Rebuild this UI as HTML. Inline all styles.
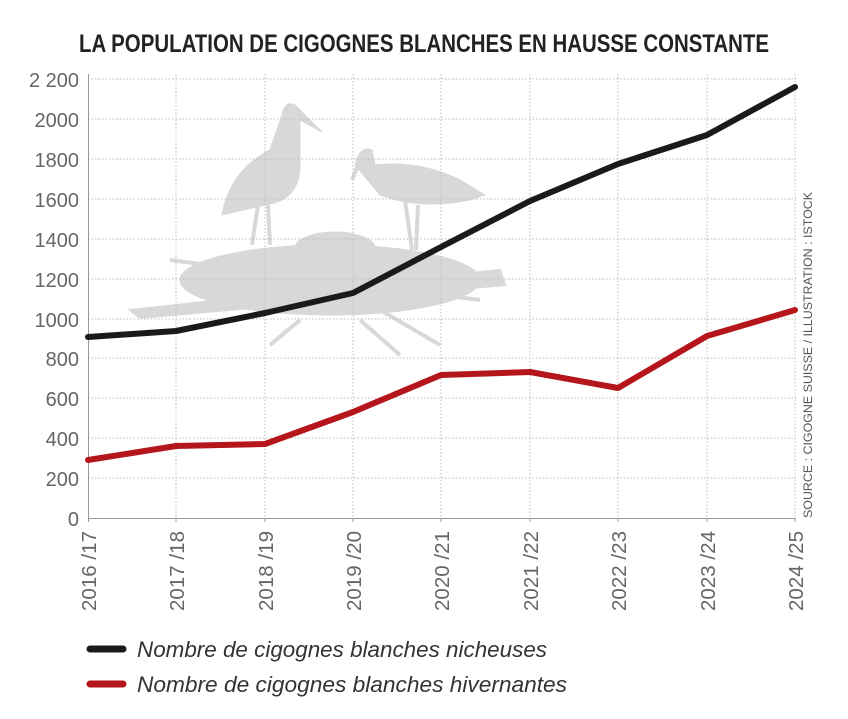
<!DOCTYPE html>
<html><head><meta charset="utf-8"><style>
body{margin:0;background:#fff;width:848px;height:714px;overflow:hidden}
svg text{font-family:"Liberation Sans",sans-serif}
</style></head><body>
<svg width="848" height="714" xmlns="http://www.w3.org/2000/svg">
<text x="424" y="52" text-anchor="middle" font-size="25" font-weight="bold" fill="#222" textLength="690" lengthAdjust="spacingAndGlyphs">LA POPULATION DE CIGOGNES BLANCHES EN HAUSSE CONSTANTE</text>
<g fill="#d8d8d8" stroke="#d8d8d8">
<ellipse cx="330" cy="280" rx="150" ry="35" />
<path d="M130 310 L500 270 L505 285 L140 318Z" stroke-width="2"/>
<path d="M170 260 L480 300" stroke-width="4" fill="none"/>
<path d="M360 320 L400 355 M300 320 L270 345 M380 310 L440 345" stroke-width="4" fill="none"/>
<ellipse cx="335" cy="248" rx="40" ry="16"/>
<path d="M222 215 Q230 170 270 150 L282 115 Q285 100 295 105 L322 132 L300 120 L300 165 Q300 200 265 205 Z"/>
<path d="M258 205 L252 245 M268 205 L270 245" stroke-width="4" fill="none"/>
<path d="M355 165 Q360 145 372 150 L375 165 Q420 160 460 180 L485 195 L470 200 Q420 210 380 195 Z"/>
<path d="M352 180 L360 160" stroke-width="4" fill="none"/>
<path d="M405 200 L412 250 M418 205 L416 250" stroke-width="4" fill="none"/>
</g>
<g stroke="#bbb" stroke-width="1" stroke-dasharray="1.5,2">
<line x1="88" x2="796" y1="79" y2="79"/><line x1="88" x2="796" y1="119" y2="119"/><line x1="88" x2="796" y1="159" y2="159"/><line x1="88" x2="796" y1="199" y2="199"/><line x1="88" x2="796" y1="239" y2="239"/><line x1="88" x2="796" y1="279" y2="279"/><line x1="88" x2="796" y1="319" y2="319"/><line x1="88" x2="796" y1="358" y2="358"/><line x1="88" x2="796" y1="398" y2="398"/><line x1="88" x2="796" y1="438" y2="438"/><line x1="88" x2="796" y1="478" y2="478"/>
<line x1="176" x2="176" y1="74" y2="518"/><line x1="265" x2="265" y1="74" y2="518"/><line x1="353" x2="353" y1="74" y2="518"/><line x1="441" x2="441" y1="74" y2="518"/><line x1="530" x2="530" y1="74" y2="518"/><line x1="618" x2="618" y1="74" y2="518"/><line x1="707" x2="707" y1="74" y2="518"/><line x1="795" x2="795" y1="74" y2="518"/>
</g>
<line x1="88.5" x2="88.5" y1="74" y2="522" stroke="#999"/>
<line x1="88" x2="796" y1="518.5" y2="518.5" stroke="#999"/>
<g stroke="#999"><line x1="176" x2="176" y1="518" y2="522"/><line x1="265" x2="265" y1="518" y2="522"/><line x1="353" x2="353" y1="518" y2="522"/><line x1="441" x2="441" y1="518" y2="522"/><line x1="530" x2="530" y1="518" y2="522"/><line x1="618" x2="618" y1="518" y2="522"/><line x1="707" x2="707" y1="518" y2="522"/><line x1="795" x2="795" y1="518" y2="522"/></g>
<g font-size="20" fill="#666" text-anchor="end">
<text x="79" y="87">2 200</text><text x="79" y="127">2000</text><text x="79" y="167">1800</text><text x="79" y="207">1600</text><text x="79" y="247">1400</text><text x="79" y="287">1200</text><text x="79" y="327">1000</text><text x="79" y="366">800</text><text x="79" y="406">600</text><text x="79" y="446">400</text><text x="79" y="486">200</text><text x="79" y="526">0</text>
</g>
<g font-size="20" fill="#666" text-anchor="end">
<text transform="translate(96,531) rotate(-90)" textLength="80" lengthAdjust="spacingAndGlyphs">2016 /17</text>
<text transform="translate(184,531) rotate(-90)" textLength="80" lengthAdjust="spacingAndGlyphs">2017 /18</text>
<text transform="translate(273,531) rotate(-90)" textLength="80" lengthAdjust="spacingAndGlyphs">2018 /19</text>
<text transform="translate(361,531) rotate(-90)" textLength="80" lengthAdjust="spacingAndGlyphs">2019 /20</text>
<text transform="translate(449,531) rotate(-90)" textLength="80" lengthAdjust="spacingAndGlyphs">2020 /21</text>
<text transform="translate(538,531) rotate(-90)" textLength="80" lengthAdjust="spacingAndGlyphs">2021 /22</text>
<text transform="translate(626,531) rotate(-90)" textLength="80" lengthAdjust="spacingAndGlyphs">2022 /23</text>
<text transform="translate(715,531) rotate(-90)" textLength="80" lengthAdjust="spacingAndGlyphs">2023 /24</text>
<text transform="translate(803,531) rotate(-90)" textLength="80" lengthAdjust="spacingAndGlyphs">2024 /25</text>
</g>
<text transform="translate(812,518) rotate(-90)" font-size="12" fill="#555" textLength="326" lengthAdjust="spacingAndGlyphs">SOURCE : CIGOGNE SUISSE / ILLUSTRATION : ISTOCK</text>
<polyline fill="none" stroke="#1a1a1a" stroke-width="6" stroke-linejoin="round" stroke-linecap="round" points="88,337 176,331 265,313 353,293 441,247 530,201 618,164 707,135 795,87"/>
<polyline fill="none" stroke="#b5161c" stroke-width="6" stroke-linejoin="round" stroke-linecap="round" points="88,460 176,446 265,444 353,412 441,375 530,372 618,388 707,336 795,310"/>
<line x1="90" x2="123" y1="649" y2="649" stroke="#1a1a1a" stroke-width="7" stroke-linecap="round"/>
<line x1="90" x2="123" y1="684" y2="684" stroke="#b5161c" stroke-width="7" stroke-linecap="round"/>
<g font-size="22" font-style="italic" fill="#333">
<text x="137" y="657" textLength="410" lengthAdjust="spacingAndGlyphs">Nombre de cigognes blanches nicheuses</text>
<text x="137" y="692" textLength="430" lengthAdjust="spacingAndGlyphs">Nombre de cigognes blanches hivernantes</text>
</g>
</svg>
</body></html>
